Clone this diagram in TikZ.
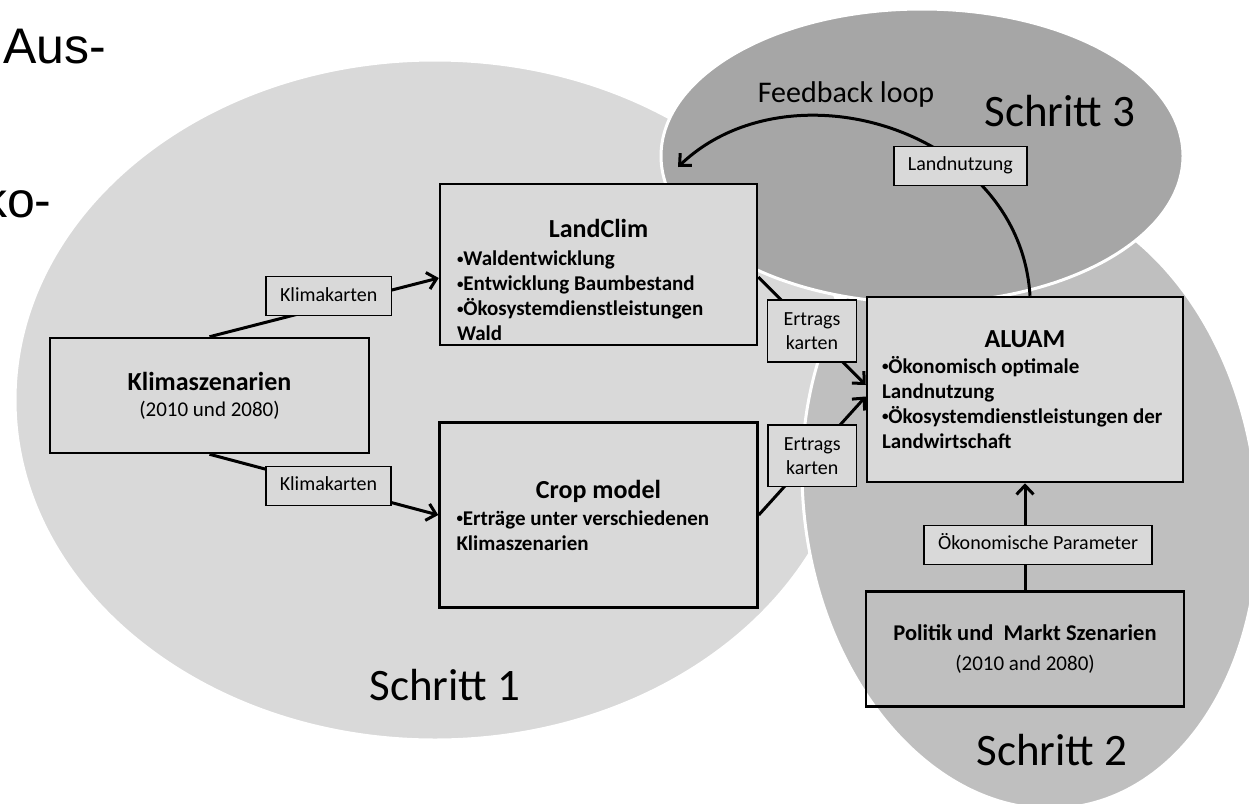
\documentclass[tikz,border=0pt]{standalone}
\usepackage{fontspec}
\setmainfont{Carlito}
\newfontfamily\arialfont{Liberation Sans}
\usetikzlibrary{arrows.meta, positioning}
\definecolor{stepone}{HTML}{D9D9D9}
\definecolor{steptwo}{HTML}{BFBFBF}
\definecolor{stepthree}{HTML}{A6A6A6}
\definecolor{boxgray}{HTML}{D9D9D9}
\newcommand{\smallbullet}{\raisebox{2.5pt}{\fontsize{13}{13}\selectfont\textbullet}}
\tikzset{
  model/.style={rectangle, draw=black, line width=2.5pt, fill=boxgray, inner sep=0pt,
                align=flush left, font=\fontsize{21}{25}\selectfont\bfseries},
  scenario/.style={rectangle, draw=black, line width=2.5pt, inner sep=0pt, align=center,
                   minimum height=115pt, font=\fontsize{21}{26}\selectfont},
  tag/.style={rectangle, draw=black, line width=1.5pt, fill=boxgray, inner xsep=14pt,
              align=center, font=\fontsize{20}{24}\selectfont},
  tagline/.style={tag, text height=15pt, text depth=5pt, inner ysep=9.5pt},
  tagpair/.style={tag, inner xsep=16pt, inner ysep=12.5pt},
  arrow/.style={-{Straight Barb[length=9pt, width=17pt]}, line width=3pt},
  region/.style={draw=white, line width=3pt},
  steplabel/.style={anchor=base, inner sep=0pt, font=\fontsize{45}{54}\selectfont},
  cutword/.style={anchor=base west, inner sep=0pt, font=\arialfont\fontsize{50}{60}\selectfont},
}

\begin{document}
\begin{tikzpicture}[x=1pt, y=-1pt]
  \useasboundingbox (0,0) rectangle (1249,803);
  \clip (0,0) rectangle (1249,803);

  \path[region, fill=stepone] (435,400) ellipse [x radius=420pt, y radius=340pt];
  \path[region, fill=steptwo, rotate around={8:(1030,500)}] (1030,500) ellipse [x radius=226pt, y radius=310pt];
  \path[region, fill=stepthree] (922,156) ellipse [x radius=261pt, y radius=147pt];

  \node[cutword] (aus) at (3,63) {Aus-};
  \node[cutword] (oeko) at (-18,217) {ko-};

  \node[steplabel] (schritt1) at (445,700) {Schritt 1};
  \node[steplabel] (schritt2) at (1052,765) {Schritt 2};
  \node[steplabel] (schritt3) at (1060,126) {Schritt 3};
  \node[anchor=base, inner sep=0pt, font=\fontsize{30}{36}\selectfont] (feedback) at (846,102) {Feedback loop};

  \node[scenario, minimum width=319pt] (klima) at (209.5,395.5)
    {{\fontsize{26}{30}\selectfont\bfseries Klimaszenarien}\\(2010 und 2080)};
  \node[model, minimum width=317pt, minimum height=161pt, text width=283pt] (landclim) at (598.5,264.5)
    {\makebox[\linewidth]{\fontsize{26}{30}\selectfont\rule{0pt}{50pt}LandClim}\\[3pt]\smallbullet Waldentwicklung\\\smallbullet Entwicklung~Baumbestand\\\smallbullet Ökosystemdienstleistungen\\Wald};
  \node[model, below=75pt of landclim, minimum width=318pt, minimum height=185pt, text width=284pt] (crop)
    {\makebox[\linewidth]{\fontsize{26}{30}\selectfont Crop model}\\[2pt]\smallbullet Erträge~unter~verschiedenen\\Klimaszenarien};
  \node[model, minimum width=316pt, minimum height=185pt, text width=286pt] (aluam) at (1025,389.5)
    {\makebox[\linewidth]{\fontsize{26}{30}\selectfont ALUAM}\\[1pt]\smallbullet Ökonomisch~optimale\\Landnutzung\\\smallbullet Ökosystemdienstleistungen~der\\Landwirtschaft};
  \node[scenario, minimum width=318pt, below=107pt of aluam] (politik)
    {{\fontsize{22.5}{27}\selectfont\bfseries Politik und \ Markt Szenarien}\\[4pt](2010 and 2080)};

  \draw[arrow] (klima.north) -- node[tagline, pos=0.52, yshift=10pt] (klimakarten1) {Klimakarten} ([yshift=-13.5pt]landclim.west);
  \draw[arrow] (klima.south) -- node[tagline, pos=0.52] (klimakarten2) {Klimakarten} (crop.west);
  \draw[arrow] ([yshift=-12.5pt]landclim.east) -- node[tagpair] (ertrag1) {Ertrags\\karten} ([yshift=4.5pt]aluam.west);
  \draw[arrow] (crop.east) -- node[tagpair] (ertrag2) {Ertrags\\karten} ([yshift=-7pt]aluam.west);
  \draw[arrow] (politik.north) -- node[tagline, pos=0.425, xshift=13pt] (parameter) {Ökonomische Parameter} (aluam.south);

  \coordinate (loopend) at (678,167);
  \draw[arrow] ([xshift=5pt]aluam.north) .. controls (1020,130) and (790,60) .. (loopend)
    node[tagline, pos=0.33] (nutzung) {Landnutzung};
\end{tikzpicture}
\end{document}
